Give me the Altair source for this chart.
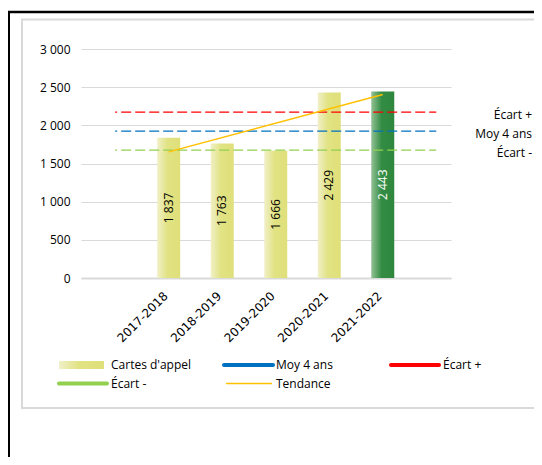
import json
import altair as alt
import pandas as pd

# ---- data ----
periods = ["2017-2018", "2018-2019", "2019-2020", "2020-2021", "2021-2022"]
cartes = [1837, 1763, 1666, 2429, 2443]
ref_names = ["Écart +", "Moy 4 ans", "Écart -"]
ref_values = [2173, 1924, 1675]
ref_colors = ["#ff0000", "#0070c0", "#92d050"]
trend_idx = [0, 4]
trend_vals = [1652, 2403]
y_ticks = [0, 500, 1000, 1500, 2000, 2500, 3000]

legend_names = ["Cartes d'appel", "Moy 4 ans", "Écart +", "Écart -", "Tendance"]
legend_colors = ["#dfe07a", "#0070c0", "#ff0000", "#92d050", "#ffc000"]

FONT = "Open Sans"
W, H = 370, 229

bars = pd.DataFrame({
    "idx": list(range(len(periods))),
    "period": periods,
    "value": cartes,
    "label": [f"{v:,}".replace(",", " ") for v in cartes],
})
refs = pd.DataFrame({"name": ref_names, "value": ref_values, "color": ref_colors})
trend = pd.DataFrame({"idx": trend_idx, "value": trend_vals})

label_expr = json.dumps(periods) + "[datum.value]"

x_scale = alt.Scale(domain=[-85 / 55, (W - 85) / 55], nice=False, zero=False)
y_scale = alt.Scale(domain=[0, 3000], nice=False)

x_axis = alt.Axis(values=list(range(len(periods))), labelExpr=label_expr, labelAngle=-45,
                  ticks=False, grid=False, domainColor="#d9d9d9", domainWidth=2,
                  labelFont="DejaVu Sans", labelFontSize=12, labelColor="#000000",
                  labelPadding=12, labelOffset=-7, labelOverlap=False, title=None)
y_axis = alt.Axis(values=y_ticks, labelExpr="replace(format(datum.value, ','), ',', ' ')",
                  ticks=False, domain=False, gridColor="#d9d9d9", gridWidth=1,
                  labelFont=FONT, labelFontSize=12, labelColor="#000000", labelPadding=11,
                  labelOverlap=False, title=None)

base = alt.Chart(bars)

yellow_grad = alt.Gradient(gradient="linear", x1=0, x2=1, y1=0, y2=0, stops=[
    alt.GradientStop(color="#f0f0c8", offset=0),
    alt.GradientStop(color="#e1e282", offset=0.45),
    alt.GradientStop(color="#dfe07a", offset=1)])
green_grad = alt.Gradient(gradient="linear", x1=0, x2=1, y1=0, y2=0, stops=[
    alt.GradientStop(color="#93c195", offset=0),
    alt.GradientStop(color="#338c43", offset=0.45),
    alt.GradientStop(color="#2e873d", offset=1)])


def X(field):
    return alt.X(field, scale=x_scale, axis=x_axis)


def Y(field):
    return alt.Y(field, scale=y_scale, axis=y_axis)


bars_y = base.transform_filter("datum.idx < 4").mark_bar(size=23, color=yellow_grad).encode(
    x=X("idx:Q"), y=Y("value:Q"))
bars_g = base.transform_filter("datum.idx == 4").mark_bar(size=23, color=green_grad).encode(
    x=X("idx:Q"), y=Y("value:Q"))
bar_labels = base.transform_calculate(mid="datum.value / 2").mark_text(
    angle=270, font=FONT, fontSize=12, baseline="middle", align="center").encode(
    x=X("idx:Q"), y=Y("mid:Q"),
    text="label:N",
    color=alt.condition("datum.idx == 4", alt.value("#ffffff"), alt.value("#000000")),
)

ref_lines = alt.Chart(refs).mark_rule(strokeWidth=1.3, strokeDash=[10, 4], strokeDashOffset=8).encode(
    x=alt.datum(-1, scale=x_scale, axis=x_axis),
    x2=alt.datum(5),
    y=Y("value:Q"),
    color=alt.Color("color:N", scale=None),
)
ref_text = alt.Chart(refs).mark_text(align="right", baseline="middle", dy=3, font=FONT,
                                     fontSize=12, color="#000000").encode(
    x=alt.value(451),
    y=Y("value:Q"),
    text="name:N",
)
trend_line = alt.Chart(trend).mark_line(color="#ffc000", strokeWidth=1.5).encode(
    x=X("idx:Q"), y=Y("value:Q"))

# ---- decorations (chart border / frame) ----
deco_src = pd.DataFrame({"k": [0]})
border = alt.Chart(deco_src).mark_rect(fill=None, stroke="#d9d9d9", strokeWidth=2).encode(
    x=alt.value(-59), x2=alt.value(480), y=alt.value(-29.5), y2=alt.value(359))
frame_top = alt.Chart(deco_src).mark_rule(color="#000000", strokeWidth=2.5).encode(
    x=alt.value(-80), x2=alt.value(480), y=alt.value(-37))
frame_left = alt.Chart(deco_src).mark_rule(color="#000000", strokeWidth=2).encode(
    x=alt.value(-72), y=alt.value(-38), y2=alt.value(420))

# ---- manual legend (3 columns) ----
leg_layers = []
col_x = [-22, 143, 310]   # swatch left edge per column (plot coords)
row_y = [316, 334.5]
sw_len = [45, 49, 48, 48, 46]
sw_w = [8, 4, 4, 4, 1.5]
for i, (name, colr) in enumerate(zip(legend_names, legend_colors)):
    c, r = i % 3, i // 3
    x0 = col_x[c] + (2 if i == 4 else 0)
    y0 = row_y[r]
    if i == 0:
        sw = alt.Chart(deco_src).mark_rect(color=yellow_grad).encode(
            x=alt.value(x0), x2=alt.value(x0 + sw_len[i]),
            y=alt.value(y0 - 4), y2=alt.value(y0 + 4))
    else:
        sw = alt.Chart(deco_src).mark_rule(color=colr, strokeWidth=sw_w[i],
                                           strokeCap="round" if sw_w[i] > 2 else "butt").encode(
            x=alt.value(x0), x2=alt.value(x0 + sw_len[i]), y=alt.value(y0))
    tx = alt.Chart(deco_src).mark_text(align="left", baseline="middle", font=FONT,
                                       fontSize=12, color="#000000", text=name).encode(
        x=alt.value(col_x[c] + 52), y=alt.value(y0))
    leg_layers += [sw, tx]

chart = alt.layer(
    border, frame_top, frame_left,
    bars_y, bars_g, ref_lines, trend_line, bar_labels, ref_text,
    *leg_layers,
).properties(
    width=W, height=H,
    autosize=alt.AutoSizeParams(type="none"),
    padding={"left": 73, "top": 41, "right": 83, "bottom": 179},
    background="#ffffff",
).configure_view(stroke=None)

chart.save("out.html", embed_options={"renderer": "svg", "actions": False})
